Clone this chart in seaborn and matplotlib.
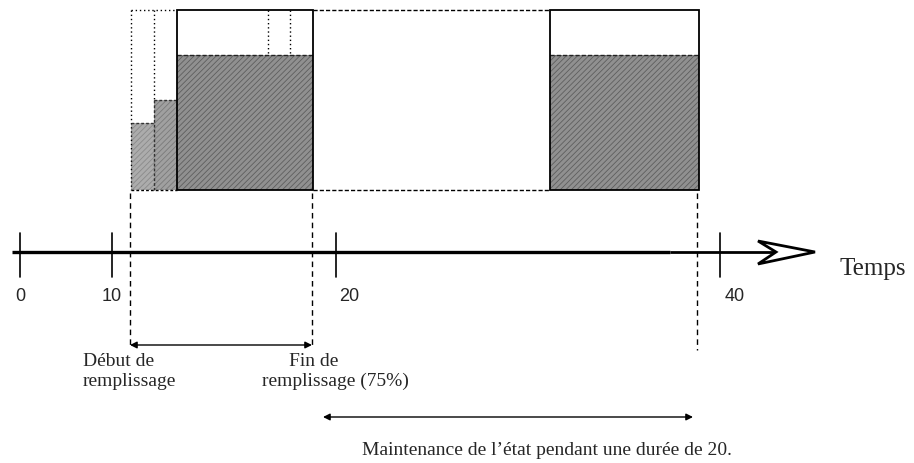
import matplotlib
matplotlib.use("Agg")
import matplotlib.pyplot as plt
from matplotlib.patches import Rectangle, Polygon
import seaborn as sns

sns.set_theme(style="white")
plt.rcParams['font.family'] = ['Liberation Serif', 'DejaVu Serif']
plt.rcParams['hatch.linewidth'] = 0.6

# ---- data (schematic layout, pixel units of the 914x463 canvas) ----
box_top, box_bottom = 10, 190
fill_levels = [0.375, 0.5, 0.75, 0.75]          # fraction of the tank filled
bar_left = [131, 154, 177, 550]
bar_right = [154, 177, 313, 699]
bar_colors = ['#acacac', '#a0a0a0', '#909090', '#909090']
hatch_colors = ['#8a8a8a', '#7a7a7a', '#5e5e5e', '#5e5e5e']

tick_labels = ['0', '10', '20', '40']
tick_x = [20, 112, 336, 720]
label_x = [20, 112, 339, 725]
label_ha = ['center', 'center', 'left', 'left']

event_x = [130, 312, 697]        # dashed markers
event_bottom = [345, 345, 350]

axis_y = 252

fig = plt.figure(figsize=(9.14, 4.63), dpi=100)
ax = fig.add_axes([0, 0, 1, 1])
ax.set_xlim(0, 914)
ax.set_ylim(463, 0)
ax.axis('off')

def level_y(f):
    return box_bottom - f * (box_bottom - box_top)

# filled bars
for l, r, f, c, hc in zip(bar_left, bar_right, fill_levels, bar_colors, hatch_colors):
    y = level_y(f)
    ax.add_patch(Rectangle((l, y), r - l, box_bottom - y, facecolor=c,
                           edgecolor=hc, lw=0, hatch='//////', zorder=1))

# dotted outline of the first (partial) steps
dot = (0, (1, 2))
dash = (0, (2, 1.5))
ax.plot([bar_left[0], bar_left[0]], [box_top, box_bottom], ls=dot, color='black', lw=1)
ax.plot([bar_left[1], bar_left[1]], [box_top, level_y(fill_levels[1])], ls=dot, color='black', lw=1)
ax.plot([bar_left[1], bar_left[1]], [level_y(fill_levels[1]), box_bottom], ls=dash, color='#333333', lw=1)
ax.plot([bar_left[0], bar_left[2]], [box_top, box_top], ls=dot, color='black', lw=1)
ax.plot([bar_left[0], bar_left[2]], [box_bottom, box_bottom], ls=dash, color='black', lw=1)
ax.plot([bar_left[0], bar_left[1]], [level_y(fill_levels[0])] * 2, ls=dash, color='#333333', lw=1)
ax.plot([bar_left[1], bar_right[1]], [level_y(fill_levels[1])] * 2, ls=dash, color='#333333', lw=1)

# solid full boxes
for i in (2, 3):
    ax.add_patch(Rectangle((bar_left[i], box_top), bar_right[i] - bar_left[i],
                           box_bottom - box_top, facecolor='none',
                           edgecolor='black', lw=1.3, zorder=3))
    ax.plot([bar_left[i], bar_right[i]], [level_y(fill_levels[i])] * 2,
            ls=(0, (3, 1.5)), color='#222222', lw=1, zorder=2)

# dotted verticals inside the big box
for xv in (268, 290):
    ax.plot([xv, xv], [box_top, level_y(fill_levels[2])], ls=dot, color='black', lw=1)

# dashed empty-period box
ax.plot([bar_right[2], bar_left[3]], [box_top, box_top], ls=(0, (3, 1.5)), color='black', lw=1)
ax.plot([bar_right[2], bar_left[3]], [box_bottom, box_bottom], ls=(0, (3, 1.5)), color='black', lw=1)

# time axis
ax.plot([12, 670], [axis_y, axis_y], color='black', lw=2.4, solid_capstyle='butt')
ax.plot([670, 775], [axis_y, axis_y], color='black', lw=2.0, solid_capstyle='butt')
ax.add_patch(Polygon([(758, 241), (815, axis_y), (758, 264), (776, axis_y)],
                     closed=True, facecolor='white', edgecolor='black', lw=2, zorder=4))
ax.text(840, 275, 'Temps', fontsize=18, ha='left', va='baseline')

for tx, lx, lab, ha in zip(tick_x, label_x, tick_labels, label_ha):
    ax.plot([tx, tx], [233, 277], color='black', lw=1.2)
    ax.text(lx, 301, lab, fontsize=13, ha=ha, va='baseline',
            family=['Liberation Sans', 'DejaVu Sans'])

# dashed event markers
for ex, eb in zip(event_x, event_bottom):
    ax.plot([ex, ex], [box_bottom + 3, eb], ls=(0, (4, 3)), color='black', lw=1)

# double arrows
ax.annotate('', xy=(event_x[0], 345), xytext=(event_x[1], 345),
            arrowprops=dict(arrowstyle='<|-|>', color='black', lw=1, mutation_scale=10,
                            shrinkA=0, shrinkB=0))
ax.annotate('', xy=(323, 417), xytext=(693, 417),
            arrowprops=dict(arrowstyle='<|-|>', color='black', lw=1, mutation_scale=10,
                            shrinkA=0, shrinkB=0))

fs = 14
ax.text(83, 366, 'Début de', fontsize=fs, ha='left', va='baseline')
ax.text(83, 386, 'remplissage', fontsize=fs, ha='left', va='baseline')
ax.text(289, 366, 'Fin de', fontsize=fs, ha='left', va='baseline')
ax.text(262, 386, 'remplissage (75%)', fontsize=fs, ha='left', va='baseline')
ax.text(362, 455, 'Maintenance de l\u2019état pendant une durée de 20.', fontsize=fs,
        ha='left', va='baseline')

fig.savefig('out.png', dpi=100)
